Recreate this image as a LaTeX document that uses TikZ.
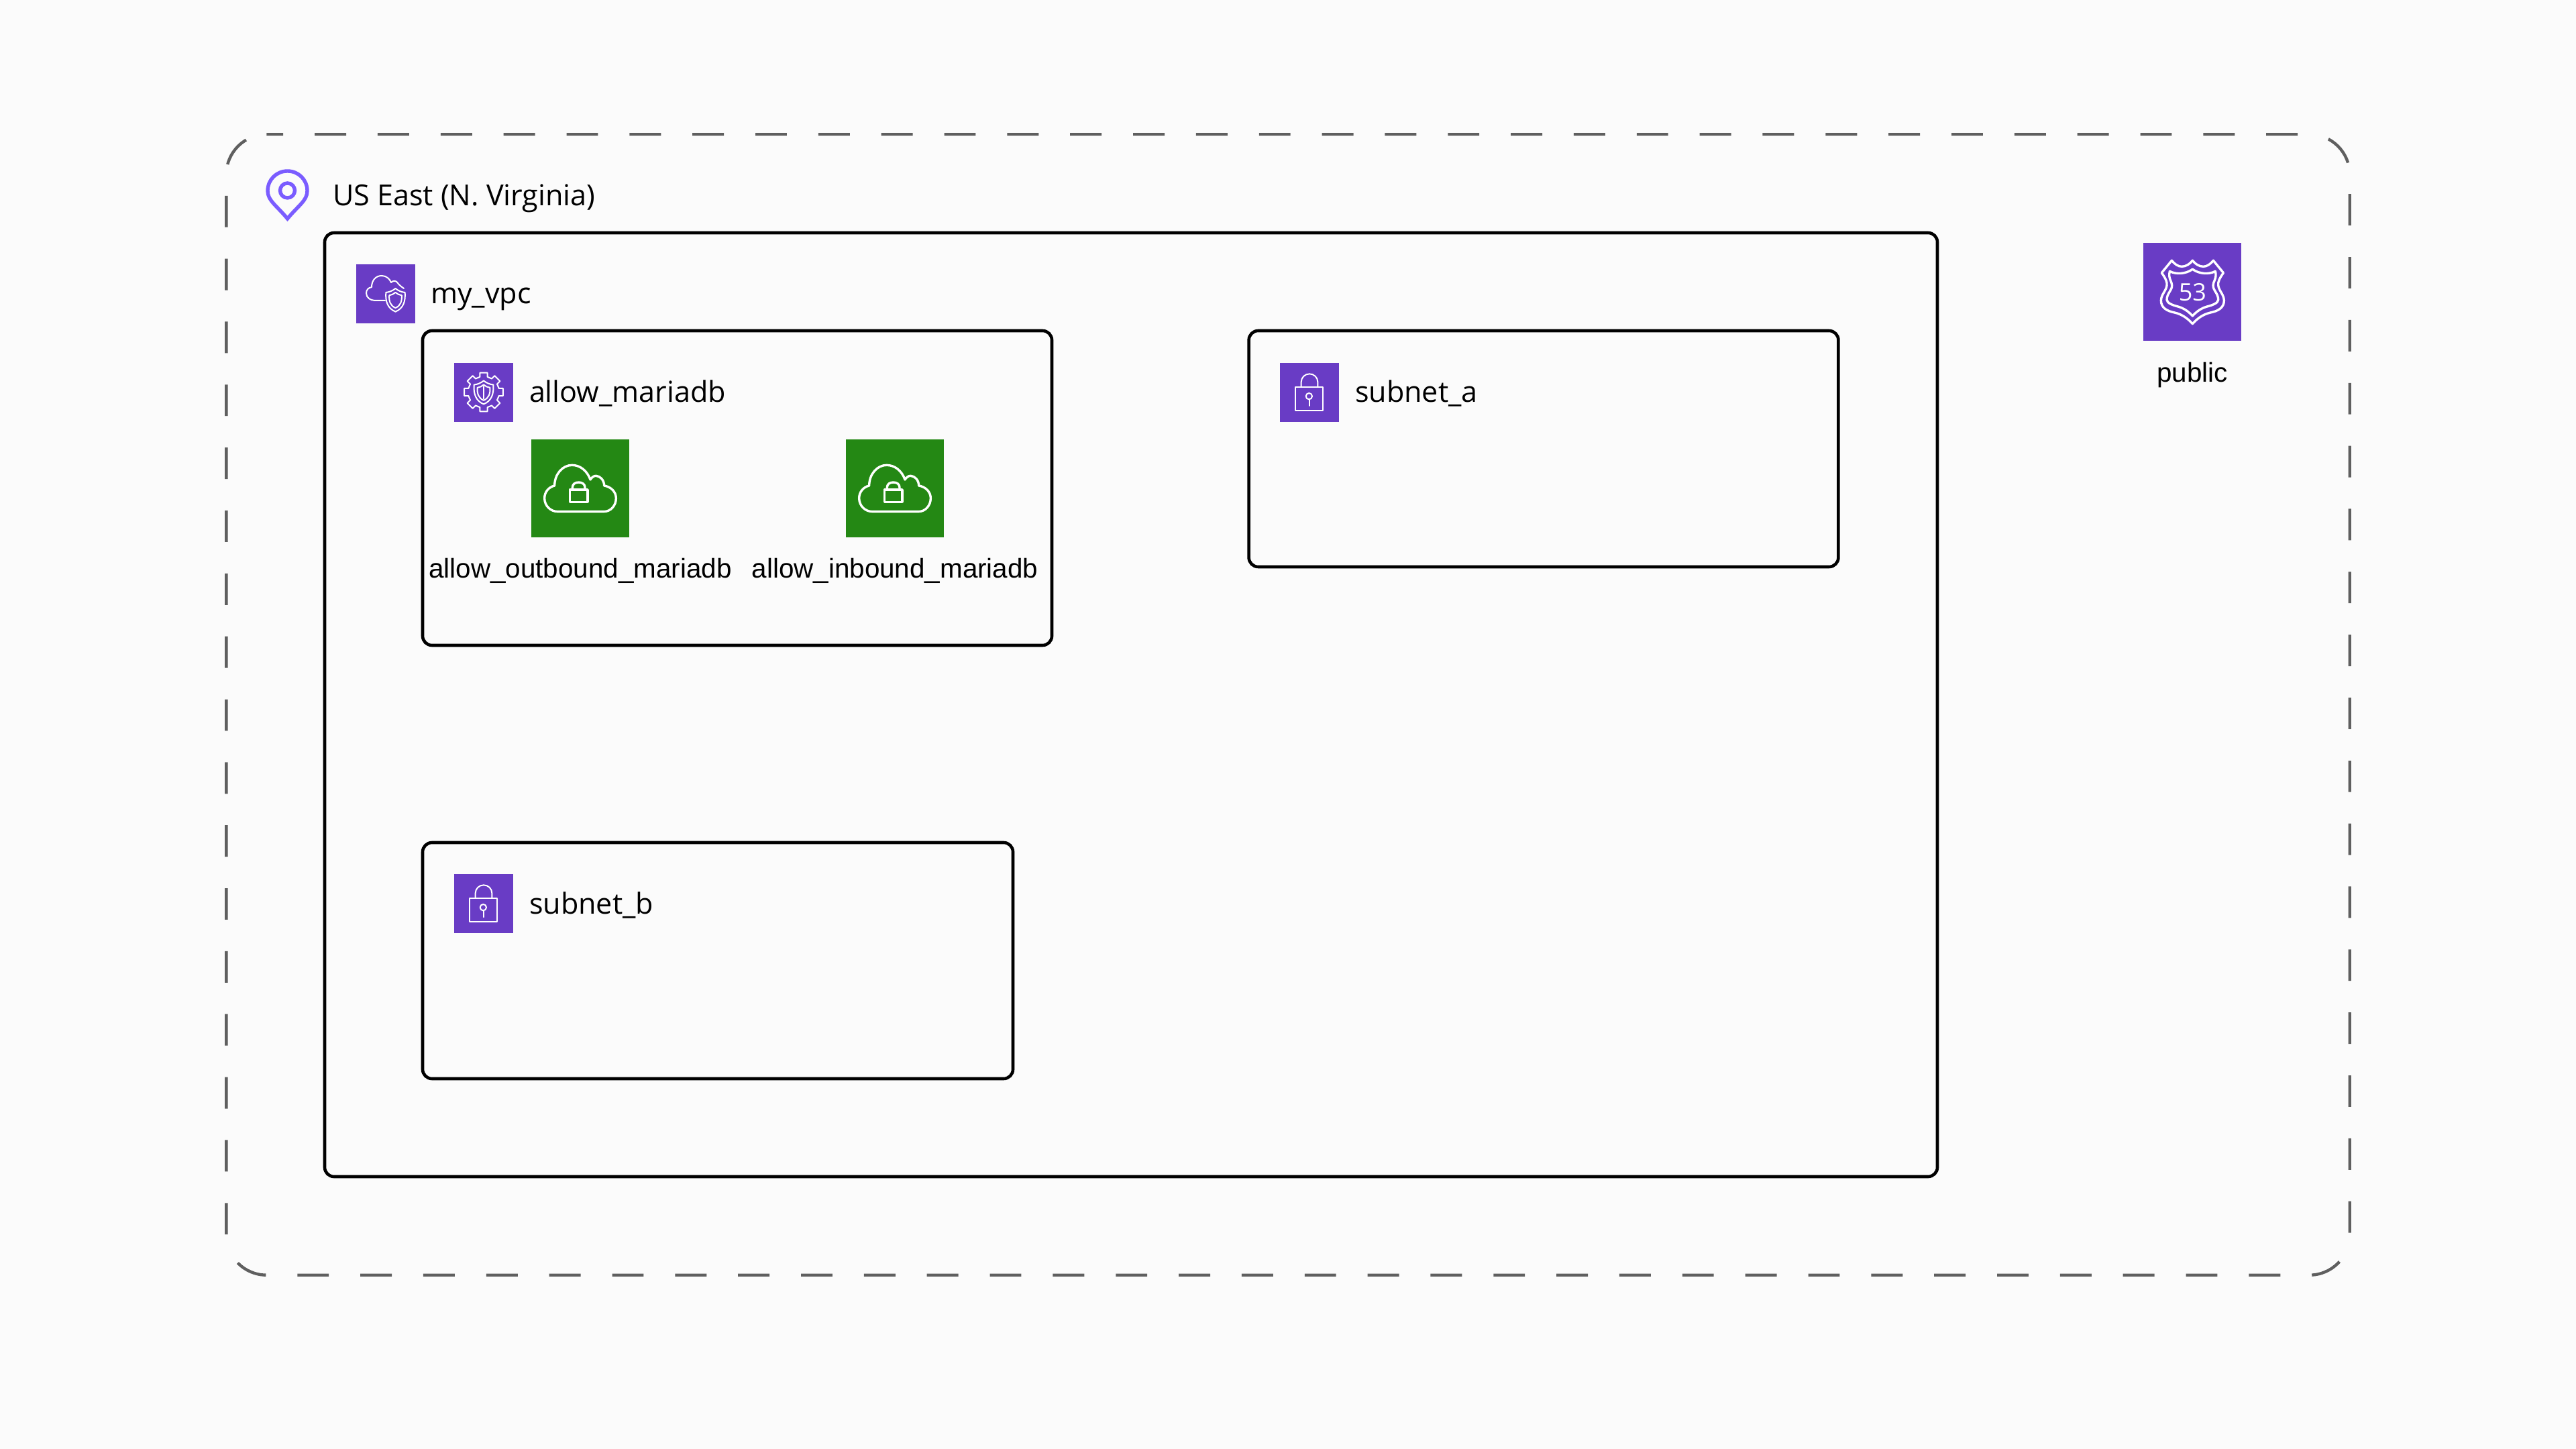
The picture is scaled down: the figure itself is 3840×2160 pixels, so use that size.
\documentclass[tikz,border=0pt]{standalone}
\usepackage{fontspec}
\setmainfont{Open Sans}
\newfontfamily\lblfont{Liberation Sans}
\definecolor{pagebg}{HTML}{FBFBFB}
\definecolor{awspurple}{HTML}{693CC5}
\definecolor{awsgreen}{HTML}{248814}
\definecolor{pincol}{HTML}{7A5CFF}
\definecolor{regiongray}{HTML}{5F5F5F}
\tikzset{
  boxs/.style={draw=black,line width=1.15pt,rectangle,rounded corners=3.5pt,inner sep=0pt,outer sep=0pt},
  iconsmall/.style={fill=awspurple,rectangle,inner sep=0pt,outer sep=0pt,minimum size=21.9pt,anchor=north west},
  iconlarge/.style={rectangle,inner sep=0pt,outer sep=0pt,minimum size=36.6pt,anchor=north west},
  grp/.style={anchor=base west,inner sep=0pt,outer sep=0pt,font=\fontsize{10.78pt}{12pt}\selectfont,text=black},
  lbl/.style={anchor=base,inner sep=0pt,outer sep=0pt,font=\lblfont\fontsize{10.1pt}{12pt}\selectfont,text=black},
  glyph/.style={draw=white,line width=.5pt,line join=round,line cap=round},
  glyphb/.style={draw=white,line width=.85pt,line join=round,line cap=round},
  shld/.pic={
    \draw[glyph] (0,0) .. controls (12,10) and (28,17) .. (43,18) .. controls (46,60) and (35,90) .. (0,105) .. controls (-35,90) and (-46,60) .. (-43,18) .. controls (-28,17) and (-12,10) .. (0,0) -- cycle;
    \draw[glyph] (0,18) .. controls (8,25) and (18,30) .. (28,31) .. controls (30,58) and (23,78) .. (0,88) .. controls (-23,78) and (-30,58) .. (-28,31) .. controls (-18,30) and (-8,25) .. (0,18) -- cycle;
  },
  padlock/.pic={
    \draw[glyph] (70,107) rectangle (193,212);
    \draw[glyph] (95,107) -- (95,85) .. controls (95,65) and (112,49) .. (132,49) .. controls (152,49) and (169,65) .. (169,85) -- (169,107);
    \draw[glyph] (130,149) circle (14);
    \draw[glyph] (131,163) -- (131,192);
  },
  gearshield/.pic={
    \draw[glyph] ({70*cos(-14)},{70*sin(-14)})
      \foreach \a in {0,45,...,315} {
        -- ({70*cos(\a-14)},{70*sin(\a-14)})
        -- ({88*cos(\a-11)},{88*sin(\a-11)})
        -- ({88*cos(\a+11)},{88*sin(\a+11)})
        -- ({70*cos(\a+14)},{70*sin(\a+14)})
      } -- cycle;
    \draw[glyph] (0,-51) .. controls (12,-41) and (28,-34) .. (43,-33) .. controls (46,9) and (35,39) .. (0,54) .. controls (-35,39) and (-46,9) .. (-43,-33) .. controls (-28,-34) and (-12,-41) .. (0,-51) -- cycle;
    \draw[glyph] (0,-33) .. controls (8,-26) and (18,-21) .. (28,-20) .. controls (30,7) and (23,27) .. (0,37) .. controls (-23,27) and (-30,7) .. (-28,-20) .. controls (-18,-21) and (-8,-26) .. (0,-33) -- cycle;
    \draw[glyph] (0,-26) -- (0,30);
  },
  cloudshield/.pic={
    \draw[glyph] (43,54) -- (30,54) .. controls (21,54) and (15,50) .. (15,43) .. controls (15,38) and (18,35) .. (23,34) .. controls (23,24) and (29,17) .. (38,17) .. controls (45,17) and (50,22) .. (52,27) .. controls (55,24) and (60,24) .. (62,28) .. controls (64,31) and (67,33) .. (71,36);
    \pic[scale=.33] at (58.5,36) {shld};
  },
  cloudlock/.pic={
    \draw[glyphb] (119,323) -- (324,323) .. controls (356,323) and (379,295) .. (379,263) .. controls (379,235) and (357,212) .. (326,207) .. controls (326,183) and (308,163) .. (289,163) .. controls (279,163) and (270,170) .. (264,180) .. controls (250,140) and (218,115) .. (182,115) .. controls (140,115) and (104,155) .. (104,207) .. controls (78,213) and (59,235) .. (59,263) .. controls (59,297) and (86,323) .. (119,323) -- cycle;
    \draw[glyphb] (172,225) rectangle (252,280);
    \draw[glyphb] (184,225) -- (184,215) .. controls (184,200) and (196,192) .. (212,192) .. controls (228,192) and (240,200) .. (240,215) -- (240,225);
  },
  routeshield/.pic={
    \draw[glyphb] (127,79) .. controls (140,95) and (155,106) .. (172,106) .. controls (190,106) and (208,95) .. (220,79) .. controls (232,95) and (250,106) .. (268,106) .. controls (285,106) and (300,95) .. (313,79) -- (358,134) .. controls (340,160) and (333,175) .. (335,190) .. controls (338,215) and (360,230) .. (361,258) .. controls (361,290) and (335,305) .. (300,312) .. controls (265,320) and (240,340) .. (220,362) .. controls (200,340) and (175,320) .. (140,312) .. controls (105,305) and (79,290) .. (79,258) .. controls (80,230) and (102,215) .. (105,190) .. controls (107,175) and (100,160) .. (82,134) -- cycle;
    \draw[glyphb] (118,127) .. controls (145,142) and (190,140) .. (220,118) .. controls (250,140) and (295,142) .. (322,127) .. controls (330,160) and (312,172) .. (312,190) .. controls (312,215) and (335,225) .. (335,255) .. controls (335,270) and (305,280) .. (285,285) .. controls (260,292) and (240,305) .. (220,327) .. controls (200,305) and (180,292) .. (155,285) .. controls (135,280) and (105,270) .. (105,255) .. controls (105,225) and (128,215) .. (128,190) .. controls (128,172) and (110,160) .. (118,127) -- cycle;
    \node[inner sep=0pt,text=white,font=\fontsize{9pt}{10pt}\selectfont] (fiftythree) at (220,221) {53};
  },
}
\begin{document}
\begin{tikzpicture}[x=.25pt,y=-.25pt]
\useasboundingbox[fill=pagebg] (0,0) rectangle (3840,2160);

% region
\draw[regiongray,line width=1.1pt,dash pattern=on 11.73pt off 11.73pt,dash phase=5.5pt]
  (397.3,200.3) -- (3442.7,200.3) .. controls (3475.8,200.3) and (3502.7,227.2) .. (3502.7,260.3)
  -- (3502.7,1840.7) .. controls (3502.7,1873.8) and (3475.8,1900.7) .. (3442.7,1900.7)
  -- (397.3,1900.7) .. controls (364.2,1900.7) and (337.3,1873.8) .. (337.3,1840.7)
  -- (337.3,260.3) .. controls (337.3,227.2) and (364.2,200.3) .. (397.3,200.3);

% pin
\draw[pincol,line width=1.35pt,line join=miter]
  (428.5,326) .. controls (412,306) and (399,299) .. (399,284.5) .. controls (399,268) and (412,255) .. (428.5,255) .. controls (445,255) and (458,268) .. (458,284.5) .. controls (458,299) and (445,306) .. (428.5,326) -- cycle;
\draw[pincol,line width=1.35pt] (428.5,284) circle (11);
\node[grp] (region) at (496,307) {US East (N. Virginia)};

% containers
\node[boxs,minimum width=601pt,minimum height=351.75pt] (vpc) at (1686,1050.5) {};
\node[boxs,minimum width=234.5pt,minimum height=117.25pt] (sg) at (1099,727.5) {};
\node[boxs,minimum width=219.7pt,minimum height=88pt] (subneta) at (2301,669) {};
\node[boxs,minimum width=220pt,minimum height=88pt] (subnetb) at (1070,1432) {};

% vpc
\node[iconsmall] (vpcicon) at (531,394) {};
\pic at (531,394) {cloudshield};
\node[grp] (vpclabel) at (642,453) {my\_vpc};

% security group
\node[iconsmall] (sgicon) at (677,541) {};
\pic[scale=1/3] at (721,584.5) {gearshield};
\node[grp] (sglabel) at (789,600) {allow\_mariadb};

% subnets
\node[iconsmall] (aicon) at (1908,541) {};
\pic[scale=1/3] at (1908,541) {padlock};
\node[grp] (alabel) at (2020,600) {subnet\_a};
\node[iconsmall] (bicon) at (677,1303) {};
\pic[scale=1/3] at (677,1303) {padlock};
\node[grp] (blabel) at (789,1362) {subnet\_b};

% rules
\node[iconlarge,fill=awsgreen] (outicon) at (792,655) {};
\pic[scale=1/3] at (792,655) {cloudlock};
\node[lbl] (outlabel) at (865,861) {allow\_outbound\_mariadb};
\node[iconlarge,fill=awsgreen] (inicon) at (1261,655) {};
\pic[scale=1/3] at (1261,655) {cloudlock};
\node[lbl] (inlabel) at (1334,861) {allow\_inbound\_mariadb};

% route53
\node[iconlarge,fill=awspurple] (r53icon) at (3195,362) {};
\pic[scale=1/3] at (3195,362) {routeshield};
\node[lbl] (r53label) at (3268,570) {public};
\end{tikzpicture}
\end{document}
